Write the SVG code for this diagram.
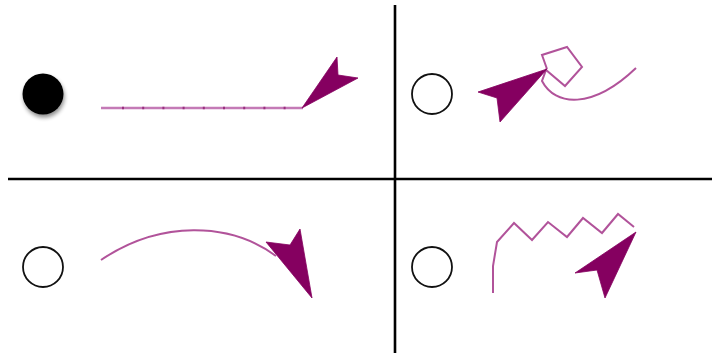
<svg xmlns="http://www.w3.org/2000/svg" width="713" height="353" viewBox="0 0 713 353">
  <style>
    .grid { stroke: #000; stroke-width: 2.6; fill: none; }
    .radio { fill: #fff; stroke: #111; stroke-width: 1.8; }
    .wire { fill: none; stroke: #a8408f; stroke-width: 2; stroke-linejoin: miter; stroke-opacity: 0.9; }
    .head { fill: #850060; stroke: #850060; stroke-width: 0.8; stroke-linejoin: round; }
  </style>
  <defs>
    <filter id="sh" x="-50%" y="-50%" width="200%" height="200%">
      <feGaussianBlur in="SourceAlpha" stdDeviation="2"/>
      <feOffset dx="1" dy="3"/>
      <feComponentTransfer><feFuncA type="linear" slope="0.45"/></feComponentTransfer>
      <feMerge><feMergeNode/><feMergeNode in="SourceGraphic"/></feMerge>
    </filter>
    <filter id="blur" x="-20%" y="-20%" width="140%" height="140%">
      <feGaussianBlur stdDeviation="0.7"/>
    </filter>
  </defs>
  <rect width="713" height="353" fill="#fff"/>
  <g id="grid">
    <line class="grid" x1="395" y1="5" x2="395" y2="353"/>
    <line class="grid" x1="8" y1="179" x2="712" y2="179"/>
  </g>
  <g id="option1">
    <circle cx="43" cy="94" r="20.5" fill="#000" filter="url(#sh)"/>
  </g>
  <g id="option2">
    <circle class="radio" cx="432" cy="94" r="20"/>
  </g>
  <g id="option3">
    <circle class="radio" cx="43" cy="267" r="20"/>
  </g>
  <g id="option4">
    <circle class="radio" cx="432" cy="267" r="20"/>
  </g>
  <g id="connectors">
    <g id="conn1">
      <line x1="101" y1="108" x2="303" y2="108" stroke="#c47ab6" stroke-width="2.6"/>
      <line x1="122" y1="108" x2="300" y2="108" stroke="#9a2f80" stroke-width="2.6" stroke-dasharray="2 18.2"/>
      <polygon class="head" points="302,108 337,57 338,75 358,78"/>
    </g>
    <g id="conn2">
      <path class="wire" d="M547,69 L542,55 L567,47 L582,67 L565,86 L546,70 L542,81 C555,106 592,110 636,68"/>
      <polygon class="head" filter="url(#blur)" points="547,69 478,92 497,98 500,122"/>
    </g>
    <g id="conn3">
      <path class="wire" d="M101,260 C160,220 230,222 276,256"/>
      <polygon class="head" filter="url(#blur)" points="312,298 266,242 290,245 300,229"/>
    </g>
    <g id="conn4">
      <path class="wire" d="M493,293 L493,266 L497,242 L514,223 L532,240 L548,222 L567,237 L583,218 L602,233 L618,214 L634,227"/>
      <polygon class="head" filter="url(#blur)" points="636,232 575,273 597,270 605,298"/>
    </g>
  </g>
</svg>
